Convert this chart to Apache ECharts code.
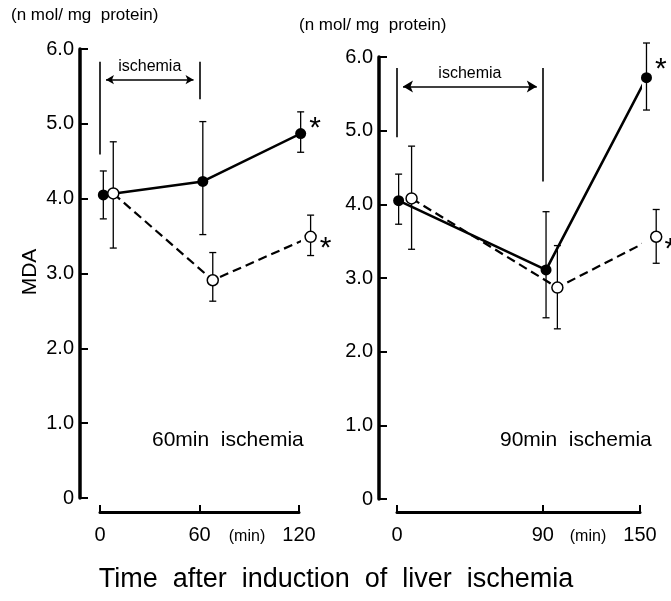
<!DOCTYPE html>
<html lang="en">
<head>
    <meta charset="UTF-8">
    <title>MDA after liver ischemia</title>
    <script src="https://cdn.jsdelivr.net/npm/echarts@6/dist/echarts.min.js"></script>
    <style>
        html, body { margin: 0; padding: 0; background: #fff; }
        #chart { width: 671px; height: 601px; }
    </style>
</head>
<body>
<div id="chart"></div>
<script>
    // y ticks shared by both panels
    var yTicks = [0, 1, 2, 3, 4, 5, 6];

    // left panel: 60 min ischemia (x = minutes, points offset slightly as in the figure)
    var leftTicks = [0, 60, 120];
    var leftFilledX = [2, 62, 121];
    var leftFilled = [4.05, 4.23, 4.87];
    var leftFilledHi = [4.37, 5.03, 5.16];
    var leftFilledLo = [3.73, 3.52, 4.62];
    var leftFilledSig = [false, false, true];
    var leftOpenX = [8, 68, 127];
    var leftOpen = [4.07, 2.91, 3.49];
    var leftOpenHi = [4.76, 3.28, 3.78];
    var leftOpenLo = [3.34, 2.63, 3.24];
    var leftOpenSig = [false, false, true];
    var leftIschemia = [0, 60];

    // right panel: 90 min ischemia
    var rightTicks = [0, 90, 150];
    var rightFilledX = [1, 92, 154];
    var rightFilled = [4.05, 3.11, 5.72];
    var rightFilledHi = [4.41, 3.90, 6.19];
    var rightFilledLo = [3.73, 2.46, 5.28];
    var rightFilledSig = [false, false, true];
    var rightOpenX = [9, 99, 160];
    var rightOpen = [4.08, 2.87, 3.56];
    var rightOpenHi = [4.79, 3.44, 3.93];
    var rightOpenLo = [3.39, 2.31, 3.20];
    var rightOpenSig = [false, false, true];
    var rightIschemia = [0, 90];

    var FONT = 'Liberation Sans';

    function points(xs, ys, sig, starOffset) {
        return xs.map(function (x, i) {
            var item = { value: [x, ys[i]] };
            if (sig[i]) {
                item.label = {
                    show: true, formatter: '*', position: 'right',
                    offset: starOffset, fontSize: 30, color: '#000', fontFamily: FONT
                };
            }
            return item;
        });
    }

    function errData(xs, lo, hi) {
        return xs.map(function (x, i) { return [x, lo[i], hi[i]]; });
    }

    function renderErr(params, api) {
        var top = api.coord([api.value(0), api.value(2)]);
        var bot = api.coord([api.value(0), api.value(1)]);
        var w = 3.5;
        var st = { stroke: '#000', lineWidth: 1.3 };
        return {
            type: 'group',
            children: [
                { type: 'line', shape: { x1: top[0], y1: top[1], x2: bot[0], y2: bot[1] }, style: st },
                { type: 'line', shape: { x1: top[0] - w, y1: top[1], x2: top[0] + w, y2: top[1] }, style: st },
                { type: 'line', shape: { x1: bot[0] - w, y1: bot[1], x2: bot[0] + w, y2: bot[1] }, style: st }
            ]
        };
    }

    function errSeries(idx, xs, lo, hi) {
        return {
            type: 'custom', xAxisIndex: idx, yAxisIndex: idx,
            renderItem: renderErr, data: errData(xs, lo, hi),
            encode: { x: 0, y: [1, 2] }, clip: false, z: 1, silent: true
        };
    }

    function filledSeries(idx, xs, ys, sig, star, markData) {
        var s = {
            type: 'line', xAxisIndex: idx, yAxisIndex: idx,
            data: points(xs, ys, sig, star), clip: false, z: 3,
            symbol: 'circle', symbolSize: 11,
            itemStyle: { color: '#000' },
            lineStyle: { color: '#000', width: 2.6 }
        };
        if (markData) {
            s.markLine = {
                silent: true, symbol: 'none', animation: false,
                lineStyle: { color: '#000', width: 1.6, type: 'solid' },
                label: { show: false },
                data: markData
            };
        }
        return s;
    }

    function openSeries(idx, xs, ys, sig, star) {
        return {
            type: 'line', xAxisIndex: idx, yAxisIndex: idx,
            data: points(xs, ys, sig, star), clip: false, z: 4,
            symbol: 'circle', symbolSize: 11,
            itemStyle: { color: '#fff', borderColor: '#000', borderWidth: 1.5 },
            lineStyle: { color: '#000', width: 2.2, type: [9, 5] }
        };
    }

    function ischemiaMarks(range, top, botL, botR, arrowY, pad, arrowSize) {
        return [
            [{ coord: [range[0], top] }, { coord: [range[0], botL] }],
            [{ coord: [range[1], top] }, { coord: [range[1], botR] }],
            [{ coord: [range[0] + pad, arrowY], symbol: 'arrow', symbolSize: arrowSize,
               label: { show: true, formatter: 'ischemia', position: 'middle', fontSize: 16,
                        color: '#000', fontFamily: FONT, backgroundColor: '#fff', padding: [0, 2] } },
             { coord: [range[1] - pad, arrowY], symbol: 'arrow', symbolSize: arrowSize }]
        ];
    }

    function yAxis(idx, offset) {
        return {
            type: 'value', gridIndex: idx, min: yTicks[0], max: yTicks[yTicks.length - 1],
            interval: 1, offset: offset,
            axisLine: { show: true, onZero: false, lineStyle: { color: '#000', width: 3.5 } },
            axisTick: { show: true, inside: true, length: 8, lineStyle: { color: '#000', width: 2 } },
            axisLabel: {
                color: '#000', fontSize: 20, fontFamily: FONT, margin: 6,
                formatter: function (v) { return v === 0 ? '0' : v.toFixed(1); }
            },
            splitLine: { show: false }
        };
    }

    function xAxis(idx, ticks, offset) {
        return {
            type: 'value', gridIndex: idx, min: ticks[0], max: ticks[ticks.length - 1],
            offset: offset,
            axisLine: { show: true, onZero: false, lineStyle: { color: '#000', width: 3 } },
            axisTick: { show: true, inside: true, length: 7, lineStyle: { color: '#000', width: 2 },
                        customValues: ticks },
            axisLabel: { color: '#000', fontSize: 20, fontFamily: FONT, margin: 13,
                         customValues: ticks, showMinLabel: true, showMaxLabel: true },
            splitLine: { show: false }
        };
    }

    var chart = echarts.init(document.getElementById('chart'));

    var option = {
        backgroundColor: '#fff',
        animation: false,
        grid: [
            { left: 100, top: 49, width: 199, height: 449 },
            { left: 397, top: 57, width: 243, height: 442 }
        ],
        xAxis: [xAxis(0, leftTicks, 14), xAxis(1, rightTicks, 13)],
        yAxis: [yAxis(0, 20), yAxis(1, 18)],
        graphic: [
            { type: 'text', left: 11, top: 7, style: { text: '(n mol/ mg  protein)', fontSize: 17, fontFamily: FONT, fill: '#000' } },
            { type: 'text', left: 299, top: 17, style: { text: '(n mol/ mg  protein)', fontSize: 17, fontFamily: FONT, fill: '#000' } },
            { type: 'text', x: 30, y: 272, rotation: Math.PI / 2, style: { text: 'MDA', fontSize: 21, fontFamily: FONT, fill: '#000', align: 'center', verticalAlign: 'middle' } },
            { type: 'text', left: 152, top: 430, style: { text: '60min  ischemia', fontSize: 21, fontFamily: FONT, fill: '#000' } },
            { type: 'text', left: 500, top: 430, style: { text: '90min  ischemia', fontSize: 21, fontFamily: FONT, fill: '#000' } },
            { type: 'text', x: 247, y: 537, style: { text: '(min)', fontSize: 16, fontFamily: FONT, fill: '#000', align: 'center', verticalAlign: 'middle' } },
            { type: 'text', x: 588, y: 537, style: { text: '(min)', fontSize: 16, fontFamily: FONT, fill: '#000', align: 'center', verticalAlign: 'middle' } },
            { type: 'text', x: 336, y: 580, style: { text: 'Time  after  induction  of  liver  ischemia', fontSize: 27, fontFamily: FONT, fill: '#000', align: 'center', verticalAlign: 'middle' } }
        ],
        series: [
            errSeries(0, leftFilledX, leftFilledLo, leftFilledHi),
            errSeries(0, leftOpenX, leftOpenLo, leftOpenHi),
            filledSeries(0, leftFilledX, leftFilled, leftFilledSig, [-2, -5],
                ischemiaMarks(leftIschemia, 5.83, 4.59, 5.33, 5.59, 3.6, [7, 8])),
            openSeries(0, leftOpenX, leftOpen, leftOpenSig, [-2, 12]),
            errSeries(1, rightFilledX, rightFilledLo, rightFilledHi),
            errSeries(1, rightOpenX, rightOpenLo, rightOpenHi),
            filledSeries(1, rightFilledX, rightFilled, rightFilledSig, [-2, -8],
                ischemiaMarks(rightIschemia, 5.85, 4.91, 4.31, 5.60, 3.7, [9, 10])),
            openSeries(1, rightOpenX, rightOpen, rightOpenSig, [-3, 13])
        ]
    };

    chart.setOption(option);
</script>
</body>
</html>
